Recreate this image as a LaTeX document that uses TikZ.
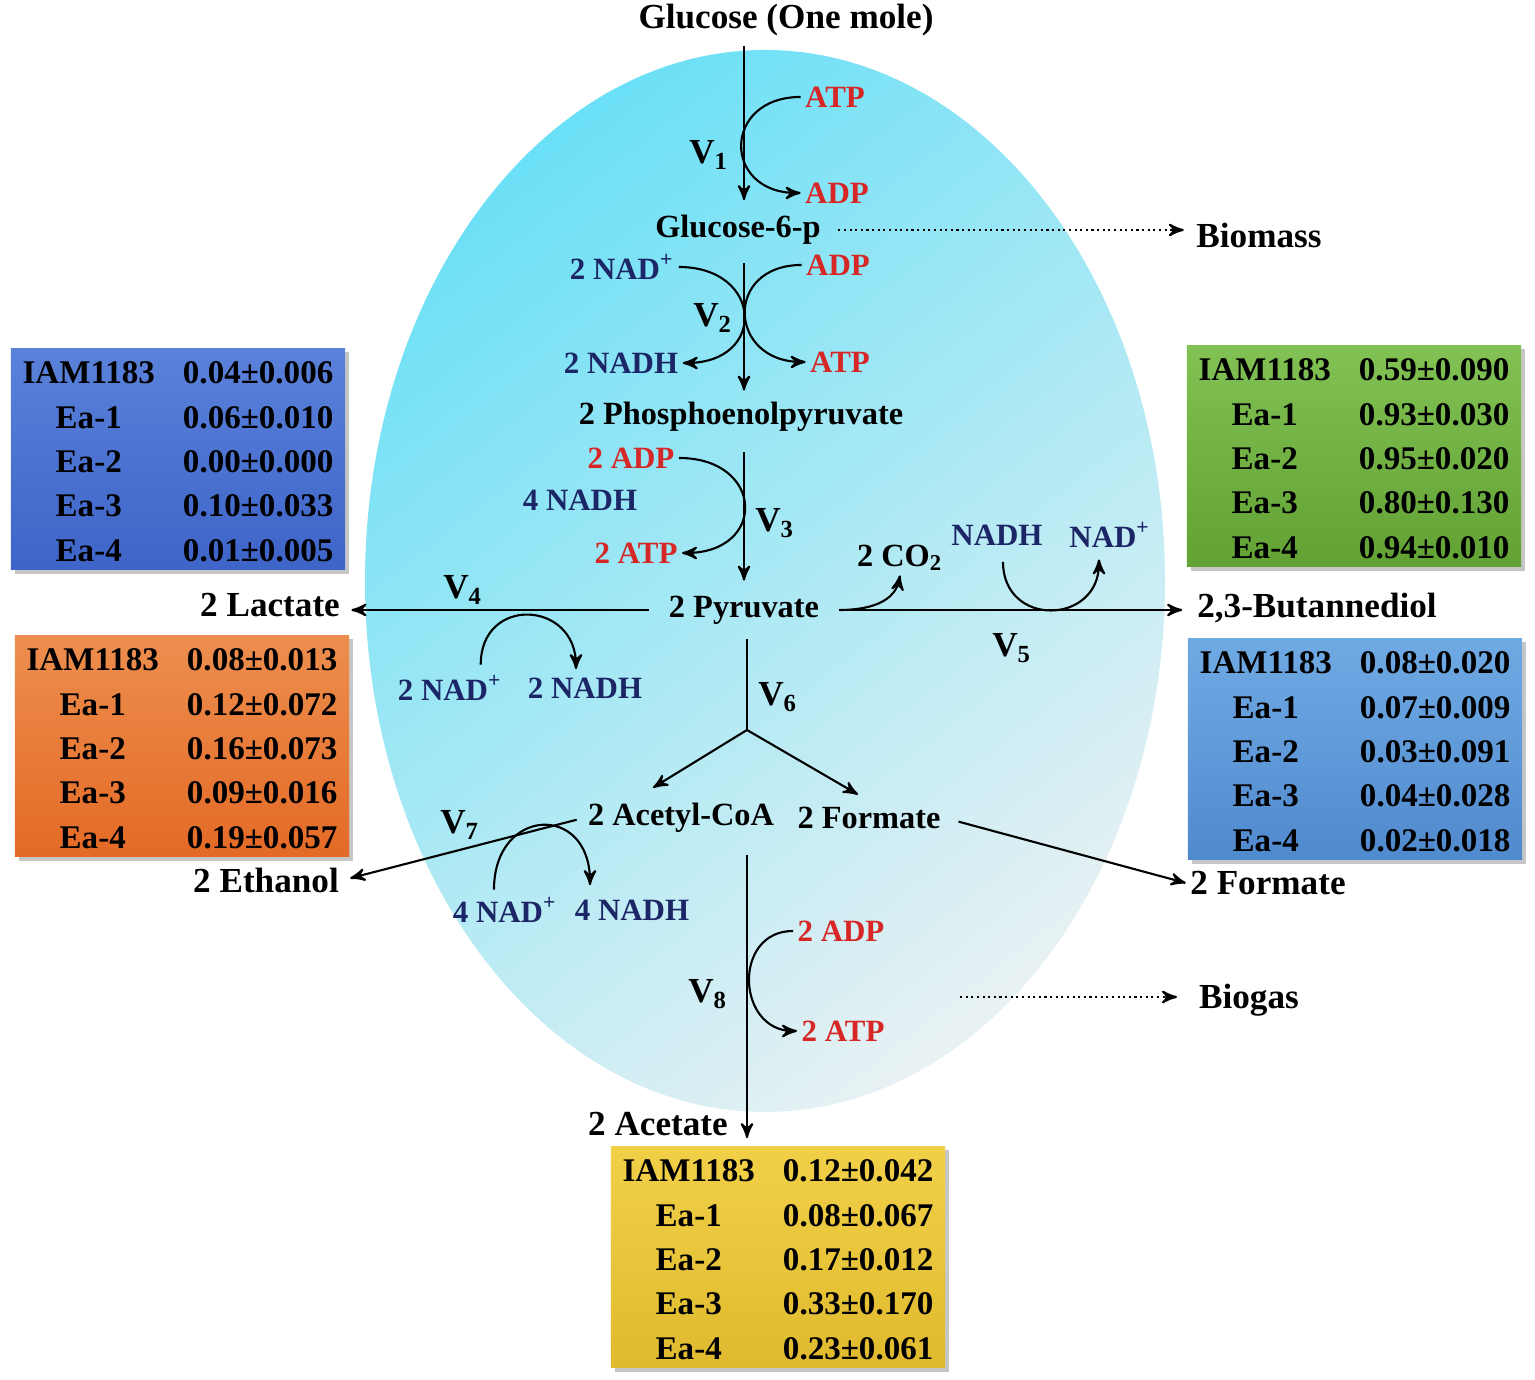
\documentclass[tikz,border=0pt]{standalone}
\usepackage{fontspec}
\setmainfont{Liberation Serif}
\usepackage{tikz}
\usetikzlibrary{arrows,calc,shadows}
\definecolor{cofred}{RGB}{214,38,38}
\definecolor{cofblue}{RGB}{28,38,102}
\definecolor{cellA}{RGB}{108,224,246}
\definecolor{cellB}{RGB}{140,212,230}
\definecolor{cellC}{RGB}{232,241,243}
\tikzset{
    %Define standard arrow tip
    >=stealth',
    %Define styles for the labels
    met/.style={
           inner sep=1pt,
           font=\fontsize{9.2}{11}\selectfont\bfseries},
    prod/.style={
           inner sep=1pt,
           font=\fontsize{10}{12}\selectfont\bfseries},
    cof/.style={
           inner sep=1pt,
           font=\fontsize{8.8}{10.5}\selectfont\bfseries},
    atp/.style={cof, text=cofred},
    nad/.style={cof, text=cofblue},
    rate/.style={
           inner sep=1pt,
           font=\fontsize{10}{12}\selectfont\bfseries},
    %Define style for the tables
    yieldbox/.style={
           rectangle,
           minimum width=3.34cm,
           minimum height=2.2cm,
           inner sep=0pt,
           drop shadow={shadow xshift=1.2pt, shadow yshift=-1.2pt, opacity=.45},
           font=\fontsize{9.4}{12.6}\selectfont\bfseries},
    % Define arrow styles
    flux/.style={
           ->,
           semithick},
    dots/.style={
           ->,
           semithick,
           densely dotted}
}
\newcommand{\yieldtab}[5]{%
  \begin{tabular}{@{}c@{\hspace{8pt}}c@{}}
  \noalign{\vskip 1.3pt}
  IAM1183 & #1\\ Ea-1 & #2\\ Ea-2 & #3\\ Ea-3 & #4\\ Ea-4 & #5\\
  \noalign{\vskip -1.3pt}
  \end{tabular}\hspace{2.8pt}}

\begin{document}
\begin{tikzpicture}[x=0.01cm,y=0.01cm,semithick]
\useasboundingbox (0,0) rectangle (1535,-1380);
 %cell
\shade[top color=cellA, middle color=cellB, bottom color=cellC, shading angle=38]
  (765,-581) ellipse [x radius=400, y radius=531];
 %metabolites
\node[prod](glc) at (786,-20){Glucose (One mole)};
\node[met](g6p) at (738,-230){Glucose-6-p};
\node[met](pep) at (741,-417){2 Phosphoenolpyruvate};
\node[met](pyr) at (744,-610){2 Pyruvate};
\node[met](acoa) at (681,-818){2 Acetyl-CoA};
\node[met](fmt) at (869,-818){2 Formate};
\node[prod](ace) at (658,-1124){2 Acetate};
\node[prod](lac) at (270,-605){2 Lactate};
\node[prod](eth) at (266,-880){2 Ethanol};
\node[prod](bdo) at (1317,-608){2,3-Butannediol};
\node[prod](fmt2) at (1268,-883){2 Formate};
\node[prod](bm) at (1259,-235){Biomass};
\node[prod](bg) at (1249,-1000){Biogas};
 %cofactors
\node[atp](atp1) at (835,-97){ATP};
\node[atp](adp1) at (837,-193){ADP};
\node[nad](nad2) at (622,-267){2 NAD\textsuperscript{+}};
\node[nad](nadh2) at (621,-363){2 NADH};
\node[atp](adp2) at (838,-265){ADP};
\node[atp](atp2) at (840,-362){ATP};
\node[atp](adp3) at (631,-458){2 ADP};
\node[nad](nadh3) at (580,-500){4 NADH};
\node[atp](atp3) at (636,-553){2 ATP};
\node[nad](nad4) at (450,-688){2 NAD\textsuperscript{+}};
\node[nad](nadh4) at (585,-688){2 NADH};
\node[met](co2) at (900,-558){2 CO\textsubscript{2}};
\node[nad](nadh5) at (997,-535){NADH};
\node[nad](nad5) at (1110,-535){NAD\textsuperscript{+}};
\node[nad](nad7) at (505,-910){4 NAD\textsuperscript{+}};
\node[nad](nadh7) at (632,-910){4 NADH};
\node[atp](adp8) at (841,-931){2 ADP};
\node[atp](atp8) at (843,-1031){2 ATP};
 %rates
\node[rate](v1) at (709,-155){V\textsubscript{1}};
\node[rate](v2) at (713,-318){V\textsubscript{2}};
\node[rate](v3) at (775,-523){V\textsubscript{3}};
\node[rate](v4) at (463,-590){V\textsubscript{4}};
\node[rate](v5) at (1012,-648){V\textsubscript{5}};
\node[rate](v6) at (778,-697){V\textsubscript{6}};
\node[rate](v7) at (460,-825){V\textsubscript{7}};
\node[rate](v8) at (708,-994){V\textsubscript{8}};
 %tables
\node[yieldbox, top color={rgb,255:red,90;green,130;blue,218}, bottom color={rgb,255:red,62;green,100;blue,200}]
  (bluebox) at (178,-459){\yieldtab{0.04±0.006}{0.06±0.010}{0.00±0.000}{0.10±0.033}{0.01±0.005}};
\node[yieldbox, top color={rgb,255:red,237;green,142;blue,78}, bottom color={rgb,255:red,228;green,106;blue,38}]
  (orangebox) at (182,-746){\yieldtab{0.08±0.013}{0.12±0.072}{0.16±0.073}{0.09±0.016}{0.19±0.057}};
\node[yieldbox, top color={rgb,255:red,130;green,194;blue,84}, bottom color={rgb,255:red,98;green,162;blue,52}]
  (greenbox) at (1354,-456){\yieldtab{0.59±0.090}{0.93±0.030}{0.95±0.020}{0.80±0.130}{0.94±0.010}};
\node[yieldbox, top color={rgb,255:red,112;green,170;blue,228}, bottom color={rgb,255:red,80;green,138;blue,206}]
  (skybox) at (1355,-749){\yieldtab{0.08±0.020}{0.07±0.009}{0.03±0.091}{0.04±0.028}{0.02±0.018}};
\node[yieldbox, top color={rgb,255:red,241;green,208;blue,72}, bottom color={rgb,255:red,224;green,186;blue,46}]
  (goldbox) at (778,-1257){\yieldtab{0.12±0.042}{0.08±0.067}{0.17±0.012}{0.33±0.170}{0.23±0.061}};
 %main pathway
\coordinate (ax) at (744,0);
\coordinate (br) at (747,-730);
\draw[flux, shorten <=1.5pt, shorten >=3pt] (glc.south -| ax) -- (g6p.north -| ax);
\draw[flux, shorten <=4pt, shorten >=2pt] (g6p.south -| ax) -- (pep.north -| ax);
\draw[flux, shorten <=4.5pt, shorten >=3pt] (pep.south -| ax) -- (pyr.north -| ax);
\draw[flux, shorten <=4.5pt, shorten >=2pt] (pyr.west) -- (pyr.west -| lac.east);
\draw[flux, shorten <=4.5pt, shorten >=3pt] (pyr.east) -- (pyr.east -| bdo.west);
\draw[shorten <=3pt] (pyr.south -| br) -- (br);
\draw[flux] (br) -- ($(acoa.north)+(-28,11)$);
\draw[flux] (br) -- ($(fmt.north)+(-11,8)$);
\draw[flux, shorten <=2pt, shorten >=2pt] (acoa.west) -- (eth.east);
\draw[flux, shorten <=4pt] (fmt.east) -- (fmt2.west);
\draw[flux, shorten <=5pt, shorten >=2pt] (acoa.south -| br) -- (br |- goldbox.north);
 %cofactor loops
\draw[->] (atp1.west) to[out=180,in=180,looseness=2.1] (adp1.west);
\draw[->] (nad2.east) to[out=0,in=0,looseness=2.25] (nadh2.east);
\draw[->] (adp2.west) to[out=180,in=180,looseness=2.05] (atp2.west);
\draw[->] (adp3.east) to[out=0,in=0,looseness=2.3] (atp3.east);
\draw[->] ($(nad4.north east)+(-26,6)$) to[out=90,in=90,looseness=1.85] ($(nadh4.north)+(-9,4)$);
\draw[->, shorten <=4.5pt] (pyr.east) to[out=0,in=-100] (co2.south);
\draw[->] ($(nadh5.south)+(6,-12)$) to[out=-90,in=-90,looseness=1.75] ($(nad5.south)+(-11,-7)$);
\draw[->] ($(nad7.north)+(-11,3)$) to[out=90,in=90,looseness=2.2] ($(nadh7.north)+(-42,10)$);
\draw[->] (adp8.west) to[out=180,in=180,looseness=1.55] (atp8.west);
 %side products
\coordinate (gas) at (960,-997);
\draw[dots, shorten <=3.7pt, shorten >=2.3pt] (g6p.east) -- (g6p.east -| bm.west);
\draw[dots, shorten >=5pt] (gas) -- (gas -| bg.west);
\end{tikzpicture}
\end{document}
